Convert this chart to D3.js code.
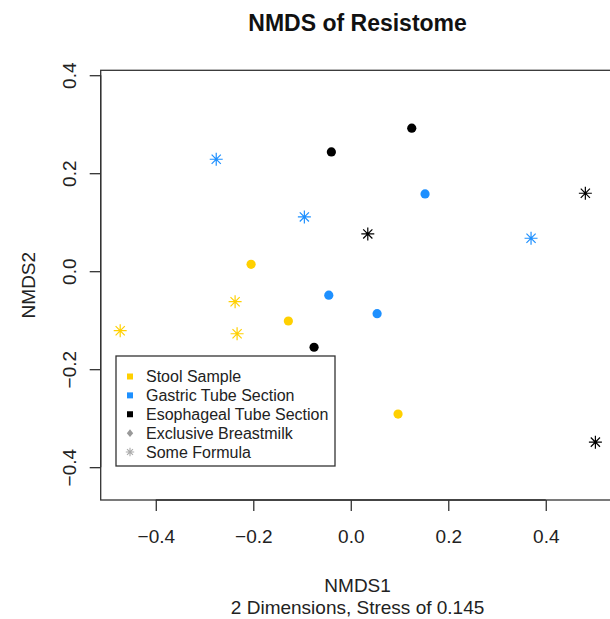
<!DOCTYPE html>
<html>
<head>
<meta charset="utf-8">
<script src="https://cdn.jsdelivr.net/npm/d3@7"></script>
<style>
    body { margin: 0; background: #fff; }
    svg { display: block; font-family: "Liberation Sans", Arial, sans-serif; }
    .tick text { fill: #222; }
</style>
</head>
<body>
<svg width="610" height="619"></svg>
<script>
// ordination scores, one entry per sample
const nmds1 = [-0.2045, -0.128, 0.097, -0.2373, -0.473, -0.2332,
               -0.276, -0.0952, 0.3698, -0.0451, 0.1524, 0.054,
               -0.0398, 0.1251, -0.0753, 0.4812, 0.0349, 0.5018];
const nmds2 = [0.0141, -0.1017, -0.2917, -0.0623, -0.1215, -0.1277,
               0.2285, 0.1107, 0.0672, -0.049, 0.1577, -0.0868,
               0.2435, 0.2919, -0.1552, 0.1591, 0.076, -0.3489];
const sampleType = ["Stool", "Stool", "Stool", "Stool", "Stool", "Stool",
                    "Gastric", "Gastric", "Gastric", "Gastric", "Gastric", "Gastric",
                    "Esophageal", "Esophageal", "Esophageal", "Esophageal", "Esophageal", "Esophageal"];
const feeding = ["Breastmilk", "Breastmilk", "Breastmilk", "Formula", "Formula", "Formula",
                 "Formula", "Formula", "Formula", "Breastmilk", "Breastmilk", "Breastmilk",
                 "Breastmilk", "Breastmilk", "Breastmilk", "Formula", "Formula", "Formula"];

const xTicks = [-0.4, -0.2, 0.0, 0.2, 0.4];
const yTicks = [-0.4, -0.2, 0.0, 0.2, 0.4];
const legendLabels = ["Stool Sample", "Gastric Tube Section", "Esophageal Tube Section",
                      "Exclusive Breastmilk", "Some Formula"];

const svg = d3.select("svg");

const x = d3.scaleLinear().domain([-0.513, 0.541]).range([100.7, 614.5]);
const y = d3.scaleLinear().domain([-0.467, 0.410]).range([500, 70.3]);

const colour = d3.scaleOrdinal()
    .domain(["Stool", "Gastric", "Esophageal"])
    .range(["#ffd000", "#1e90ff", "#000000"]);

// asterisk like R's pch 8: a plus and a cross
const asterisk = (r) => {
    const d = r * Math.SQRT1_2;
    return `M${-r},0L${r},0M0,${-r}L0,${r}` +
           `M${-d},${-d}L${d},${d}M${-d},${d}L${d},${-d}`;
};

// plot box
svg.append("rect")
   .attr("x", x.range()[0]).attr("y", y.range()[1])
   .attr("width", x.range()[1] - x.range()[0])
   .attr("height", y.range()[0] - y.range()[1])
   .attr("fill", "none").attr("stroke", "#333").attr("stroke-width", 1.3);

const xAxis = svg.append("g")
   .attr("transform", "translate(0,500)")
   .call(d3.axisBottom(x).tickValues(xTicks).tickFormat(d3.format(".1f"))
         .tickSize(11).tickPadding(18));
xAxis.select(".domain")
     .attr("d", `M${x(-0.4)},0H${x(0.4)}`);

const yAxis = svg.append("g")
   .attr("transform", `translate(${x.range()[0]},0)`)
   .call(d3.axisLeft(y).tickValues(yTicks).tickFormat(d3.format(".1f"))
         .tickSize(11).tickPadding(0));
yAxis.select(".domain")
     .attr("d", `M0,${y(-0.4)}V${y(0.4)}`);

svg.selectAll(".domain, .tick line").attr("stroke", "#333").attr("stroke-width", 1.3);
xAxis.selectAll(".tick text").attr("font-size", 19).attr("dy", "0.71em").attr("y", 30);
yAxis.selectAll(".tick text")
     .attr("font-size", 19)
     .attr("x", null).attr("dy", null)
     .attr("text-anchor", "middle")
     .attr("transform", "translate(-31,0) rotate(-90)")
     .attr("y", 0).attr("dy", "0.35em");

// points
const pts = d3.range(nmds1.length);

svg.append("g").selectAll("circle")
   .data(pts.filter(i => feeding[i] === "Breastmilk"))
   .join("circle")
   .attr("cx", i => x(nmds1[i]))
   .attr("cy", i => y(nmds2[i]))
   .attr("r", 4.6)
   .attr("fill", i => colour(sampleType[i]));

svg.append("g").selectAll("path")
   .data(pts.filter(i => feeding[i] === "Formula"))
   .join("path")
   .attr("transform", i => `translate(${x(nmds1[i])},${y(nmds2[i])})`)
   .attr("d", asterisk(6.5))
   .attr("fill", "none")
   .attr("stroke-width", 1.2)
   .attr("stroke", i => colour(sampleType[i]));

// titles
svg.append("text")
   .attr("x", (x.range()[0] + x.range()[1]) / 2).attr("y", 31)
   .attr("text-anchor", "middle")
   .attr("font-size", 23).attr("font-weight", "bold")
   .attr("fill", "#111")
   .text("NMDS of Resistome");

svg.append("text")
   .attr("x", (x.range()[0] + x.range()[1]) / 2).attr("y", 592)
   .attr("text-anchor", "middle").attr("font-size", 19).attr("fill", "#222")
   .text("NMDS1");

svg.append("text")
   .attr("x", (x.range()[0] + x.range()[1]) / 2).attr("y", 614)
   .attr("text-anchor", "middle").attr("font-size", 19).attr("fill", "#222")
   .text("2 Dimensions, Stress of 0.145");

svg.append("text")
   .attr("transform", `translate(35,${(y.range()[0] + y.range()[1]) / 2}) rotate(-90)`)
   .attr("text-anchor", "middle").attr("font-size", 19).attr("fill", "#222")
   .text("NMDS2");

// legend
const legend = svg.append("g").attr("transform", "translate(116,356)");

legend.append("rect")
      .attr("width", 219).attr("height", 110)
      .attr("fill", "#fff").attr("stroke", "#333").attr("stroke-width", 1.3);

const row = d3.scalePoint().domain(legendLabels).range([20.5, 96]);

const item = legend.selectAll("g.item")
    .data(legendLabels)
    .join("g")
    .attr("class", "item")
    .attr("transform", d => `translate(14,${row(d)})`);

item.append("text")
    .attr("x", 16).attr("dy", "0.35em")
    .attr("font-size", 16).attr("fill", "#222")
    .text(d => d);

item.filter((d, i) => i < 3)
    .append("rect")
    .attr("x", -3).attr("y", -3).attr("width", 6).attr("height", 6)
    .attr("fill", (d, i) => colour.range()[i]);

item.filter((d, i) => i === 3)
    .append("path")
    .attr("d", "M0,-3.8L3.2,0L0,3.8L-3.2,0Z")
    .attr("fill", "#999");

item.filter((d, i) => i === 4)
    .append("path")
    .attr("d", asterisk(4.2))
    .attr("stroke", "#aaa").attr("stroke-width", 1.1);
</script>
</body>
</html>
